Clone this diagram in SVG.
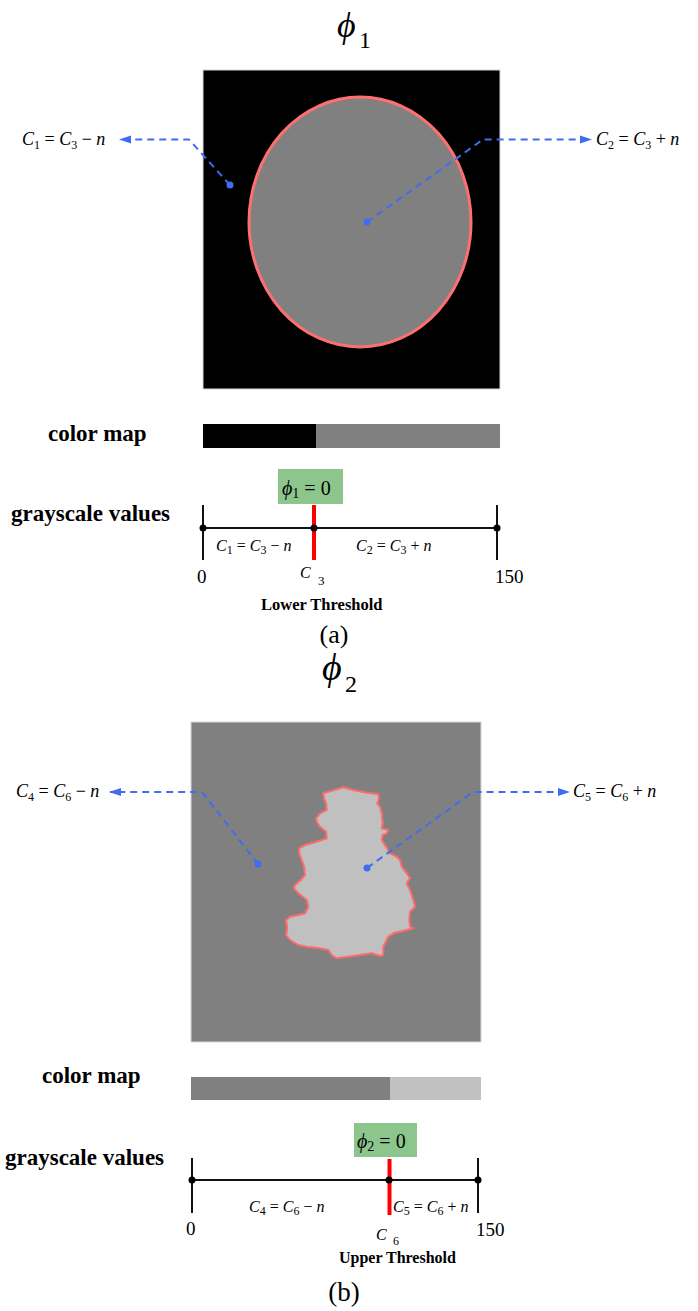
<svg xmlns="http://www.w3.org/2000/svg" width="698" height="1311" viewBox="0 0 698 1311">
<style>
text{font-family:"Liberation Serif","DejaVu Serif",serif;fill:#000}
.i{font-style:italic}
.b{font-weight:bold}
.call{font-size:18px}
.ax{font-size:16px}
.sub{font-size:12px}
.dash{fill:none;stroke:#3f6cf0;stroke-width:2;stroke-dasharray:7,5}
.dot{fill:#3f6cf0}
.axis{stroke:#111;stroke-width:2;fill:none}
.red{stroke:#ff0000;stroke-width:4}
.tick{fill:#000}
.green{fill:#8dc68d}
.edge{stroke:#d8d8d8;stroke-width:1}
</style>
<defs>
<marker id="ah" viewBox="0 0 12 10" refX="11" refY="5" markerWidth="12" markerHeight="10" markerUnits="userSpaceOnUse" orient="auto">
<path d="M0,1 L12,5 L0,9 Z" fill="#3f6cf0"/>
</marker>
</defs>
<rect width="698" height="1311" fill="#fff"/>

<!-- Panel (a) -->
<g id="title-a">
<text class="i" x="337" y="37" font-size="36">ϕ</text>
<text x="359" y="48" font-size="24">1</text>
</g>
<g id="image-a">
<rect x="203" y="70" width="297" height="319" fill="#000" class="edge"/>
<ellipse cx="360" cy="222" rx="111" ry="125" fill="#808080" stroke="#ff6f6f" stroke-width="3"/>
</g>
<g id="label-c1">
<text class="call" x="22" y="145"><tspan class="i">C</tspan><tspan class="sub" dy="4">1</tspan><tspan dy="-4"> = </tspan><tspan class="i">C</tspan><tspan class="sub" dy="4">3</tspan><tspan dy="-4"> − </tspan><tspan class="i">n</tspan></text>
</g>
<g id="label-c2">
<text class="call" x="596" y="145"><tspan class="i">C</tspan><tspan class="sub" dy="4">2</tspan><tspan dy="-4"> = </tspan><tspan class="i">C</tspan><tspan class="sub" dy="4">3</tspan><tspan dy="-4"> + </tspan><tspan class="i">n</tspan></text>
</g>
<g id="colormap-a">
<text class="b" x="48" y="441" font-size="23">color map</text>
<rect x="203" y="424" width="113" height="24" fill="#000"/>
<rect x="316" y="424" width="184" height="24" fill="#808080"/>
</g>
<g id="grayscale-a">
<text class="b" x="11" y="521" font-size="23">grayscale values</text>
<line class="axis" x1="203" y1="528" x2="497" y2="528"/>
<line class="axis" x1="203" y1="505" x2="203" y2="560"/>
<line class="axis" x1="497" y1="505" x2="497" y2="560"/>
<line class="red" x1="314" y1="505" x2="314" y2="560"/>
<circle class="tick" cx="203" cy="528" r="3.5"/>
<circle class="tick" cx="314" cy="528" r="3.5"/>
<circle class="tick" cx="497" cy="528" r="3.5"/>
<text class="ax" x="216" y="551"><tspan class="i">C</tspan><tspan class="sub" dy="3">1</tspan><tspan dy="-3"> = </tspan><tspan class="i">C</tspan><tspan class="sub" dy="3">3</tspan><tspan dy="-3"> − </tspan><tspan class="i">n</tspan></text>
<text class="ax" x="356" y="551"><tspan class="i">C</tspan><tspan class="sub" dy="3">2</tspan><tspan dy="-3"> = </tspan><tspan class="i">C</tspan><tspan class="sub" dy="3">3</tspan><tspan dy="-3"> + </tspan><tspan class="i">n</tspan></text>
<text x="197" y="583" font-size="19">0</text>
<text x="495" y="583" font-size="19">150</text>
<text class="i" x="300" y="578" font-size="16">C</text>
<text x="318" y="585" font-size="13">3</text>
<text class="b" x="261" y="610" font-size="16.5">Lower Threshold</text>
</g>
<g id="phi1-zero">
<rect class="green" x="278" y="469" width="65" height="35"/>
<text x="282" y="495" font-size="20"><tspan class="i">ϕ</tspan><tspan font-size="14" dy="3">1</tspan><tspan dy="-3"> = 0</tspan></text>
</g>
<text id="caption-a" x="334" y="643" font-size="26" text-anchor="middle">(a)</text>

<!-- Panel (b) -->
<g id="title-b">
<text class="i" x="322" y="680" font-size="38">ϕ</text>
<text x="345" y="692" font-size="24">2</text>
</g>
<g id="image-b">
<rect x="191" y="722" width="290" height="320" fill="#808080" class="edge"/>
<path d="M323.3,793.3 L328.3,791.7 L343.3,787.3 L353.3,790 L366.7,792.7 L378.3,794 L379,798.3 L377.3,803.3 L380,806.7 L381.7,813.3 L382.7,823.3 L381.7,828.3 L388.3,830 L386.7,833.3 L382.7,835 L381.7,840 L385,845 L390,853.3 L396.7,856.7 L400,860 L401.7,866.7 L406.7,873.3 L410,878.3 L406.7,883.3 L410,890 L413.3,900 L415,906.7 L410,911.7 L409.3,920 L410,926.7 L413.3,928.3 L406.7,930 L393.3,933.3 L388.3,936.7 L383.3,946.7 L383.3,955 L380,956 L371.7,953.3 L353.3,956 L336.7,958.3 L331.7,955 L328.3,950 L320,948.3 L306.7,946.7 L298.3,945 L290,940 L286,935 L287.3,928.3 L286,920 L290,916.7 L298.3,915 L305,913.3 L308.3,906.7 L306.7,900 L298.3,893.3 L294,888.3 L295,885 L300.7,880 L305,875 L304,866.7 L301.7,860 L299.3,853.3 L299,848.3 L305,845 L316.7,841.7 L326.7,838.3 L326,831.7 L320,826.7 L316.7,821.7 L316,818.3 L320,813.3 L323.3,811.7 L326.7,810 L326,803.3 L324,798.3 Z" fill="#c0c0c0" stroke="#ff6b6b" stroke-width="2" stroke-linejoin="round"/>
</g>
<g id="label-c4">
<text class="call" x="16" y="797"><tspan class="i">C</tspan><tspan class="sub" dy="4">4</tspan><tspan dy="-4"> = </tspan><tspan class="i">C</tspan><tspan class="sub" dy="4">6</tspan><tspan dy="-4"> − </tspan><tspan class="i">n</tspan></text>
</g>
<g id="label-c5">
<text class="call" x="573" y="797"><tspan class="i">C</tspan><tspan class="sub" dy="4">5</tspan><tspan dy="-4"> = </tspan><tspan class="i">C</tspan><tspan class="sub" dy="4">6</tspan><tspan dy="-4"> + </tspan><tspan class="i">n</tspan></text>
</g>
<g id="colormap-b">
<text class="b" x="42" y="1083" font-size="23">color map</text>
<rect x="191" y="1077" width="199" height="23" fill="#808080"/>
<rect x="390" y="1077" width="91" height="23" fill="#c0c0c0"/>
</g>
<g id="grayscale-b">
<text class="b" x="5" y="1165" font-size="23">grayscale values</text>
<line class="axis" x1="192" y1="1180" x2="478" y2="1180"/>
<line class="axis" x1="192" y1="1158" x2="192" y2="1213"/>
<line class="axis" x1="478" y1="1158" x2="478" y2="1213"/>
<line class="red" x1="389.5" y1="1159" x2="389.5" y2="1215"/>
<circle class="tick" cx="192" cy="1180" r="3.5"/>
<circle class="tick" cx="389" cy="1180" r="3.5"/>
<circle class="tick" cx="478" cy="1180" r="3.5"/>
<text class="ax" x="249" y="1212"><tspan class="i">C</tspan><tspan class="sub" dy="3">4</tspan><tspan dy="-3"> = </tspan><tspan class="i">C</tspan><tspan class="sub" dy="3">6</tspan><tspan dy="-3"> − </tspan><tspan class="i">n</tspan></text>
<text class="ax" x="393" y="1212"><tspan class="i">C</tspan><tspan class="sub" dy="3">5</tspan><tspan dy="-3"> = </tspan><tspan class="i">C</tspan><tspan class="sub" dy="3">6</tspan><tspan dy="-3"> + </tspan><tspan class="i">n</tspan></text>
<text x="186" y="1235" font-size="19">0</text>
<text x="476" y="1236" font-size="19">150</text>
<text class="i" x="376" y="1240" font-size="16">C</text>
<text x="393" y="1245" font-size="12">6</text>
<text class="b" x="339" y="1263" font-size="16">Upper Threshold</text>
</g>
<g id="phi2-zero">
<rect class="green" x="354" y="1123" width="63" height="34"/>
<text x="357" y="1148" font-size="20"><tspan class="i">ϕ</tspan><tspan font-size="14" dy="3">2</tspan><tspan dy="-3"> = 0</tspan></text>
</g>
<text id="caption-b" x="344" y="1301" font-size="27" text-anchor="middle">(b)</text>

<!-- Connectors -->
<g id="connectors">
<polyline class="dash" points="230,185 189,139.5 120,139.5" marker-end="url(#ah)"/>
<polyline class="dash" points="367,222 483,139.5 591,139.5" marker-end="url(#ah)"/>
<circle class="dot" cx="230" cy="185" r="3.5"/>
<circle class="dot" cx="367" cy="222" r="3.5"/>
<polyline class="dash" points="258,864 202,792 110,792" marker-end="url(#ah)"/>
<polyline class="dash" points="367,868 473,792 569,792" marker-end="url(#ah)"/>
<circle class="dot" cx="258" cy="864" r="3.5"/>
<circle class="dot" cx="367" cy="868" r="3.5"/>
</g>
</svg>
